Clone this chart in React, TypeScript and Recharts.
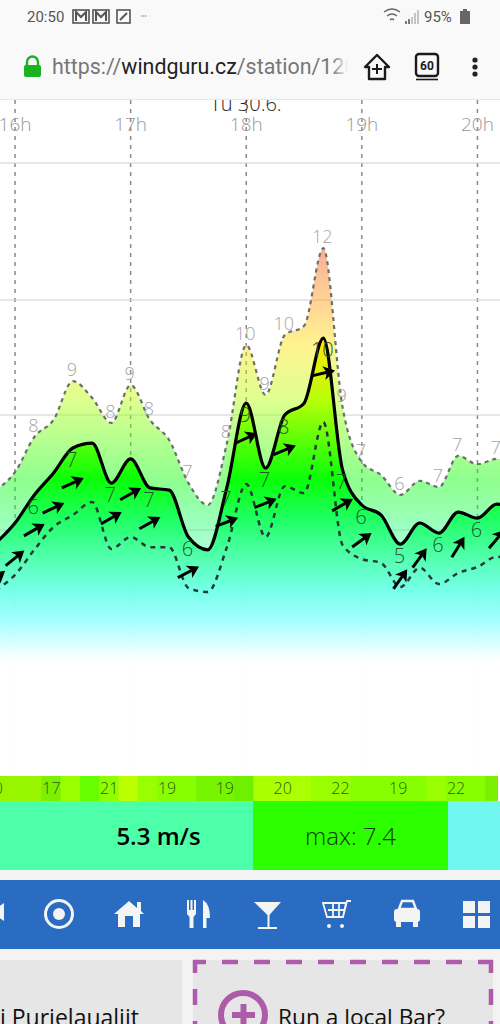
import { Area, Bar, CartesianGrid, Cell, ComposedChart, LabelList, Line, XAxis, YAxis } from "recharts";

// 10 minute station samples, hours of the day
const times = [
  15.833, 16, 16.167, 16.333, 16.5, 16.667, 16.833, 17, 17.167, 17.333, 17.5, 17.667, 17.833, 18,
  18.167, 18.333, 18.5, 18.667, 18.833, 19, 19.167, 19.333, 19.5, 19.667, 19.833, 20, 20.167, 20.333,
];
const gust = [
  6.49, 6.9, 7.7, 8.09, 8.97, 8.59, 8.02, 8.88, 8.09, 7.63, 6.65, 6.15, 7.56, 9.79,
  8.66, 10.02, 10.23, 12.0, 8.38, 7.13, 6.83, 6.38, 6.7, 6.56, 7.27, 7.08, 7.2, 7.13,
];
const mean = [
  5.28, 5.74, 6.38, 6.88, 7.45, 7.56, 6.65, 7.2, 6.54, 6.49, 5.42, 5.13, 6.56, 8.47,
  6.99, 8.2, 8.47, 9.95, 6.95, 6.15, 5.92, 5.26, 5.74, 5.51, 5.99, 5.85, 6.17, 6.04,
];
const lull = [
  4.21, 4.56, 5.13, 5.65, 5.92, 6.22, 5.15, 5.42, 5.19, 5.19, 4.26, 4.17, 5.19, 6.63,
  5.42, 6.58, 6.42, 8.04, 5.24, 4.92, 4.83, 4.28, 4.72, 4.35, 4.6, 4.74, 4.97, 4.9,
];
const gustLabels = [
  null, null, "8", null, "9", null, "8", "9", "8", null, "7", null, "8", "10",
  "9", "10", null, "12", "9", "7", null, "6", null, "7", "7", null, "7", null,
];
const meanLabels = [
  null, null, "6", null, "7", null, "7", null, "7", null, "6", null, "7", "9",
  "7", "8", null, "10", "7", "6", null, "5", null, "6", null, "6", null, null,
];
// arrow slope above horizontal, degrees
const arrowAngles = [
  38, 39, 30, 25, 24, null, 30, 29, 29, null, 28, null, 21, 25,
  22, 22, null, 13, 30, 36, null, 55, 54, null, 58, null, 50, null,
];
const tempLabels = [
  "20", null, null, "17", null, null, "21", null, null, "19", null, null, "19", null,
  null, "20", null, null, "22", null, null, "19", null, null, "22", null, null, null,
];
const tempColors = [
  "#98f500", "#98f500", "#98f500", "#7cf000", "#99ff00", "#66ff00", "#90ff00", "#bbff00", "#99ff00", "#88ff00",
  "#88ff00", "#77f400", "#77f400", "#6ef000", "#aaff00", "#aaff00", "#aaff00", "#99ff00", "#99ff00", "#88ff00",
  "#88ff00", "#88ff00", "#88ff00", "#99ff00", "#88ff00", "#88ff00", "#7cf000", "#7cf000",
];
const hourTicks = [16, 17, 18, 19, 20];
const gridValues = [5.58, 8.2, 10.82, 13.94];
const xDomain = [15.87, 20.195];

const colorStops = [
  [248, "#ee4a10"], [300, "#ff9a10"], [345, "#ffe400"], [400, "#b4ff00"], [450, "#40ff00"], [480, "#00ff00"],
  [520, "#18ff60"], [560, "#50ffb0"], [590, "#70ffe8"], [620, "#a0ffff"], [660, "#ffffff"],
] as const;

const data = times.map((t, i) => ({
  t,
  gust: gust[i],
  mean: mean[i],
  lull: lull[i],
  gustLabel: gustLabels[i] ?? undefined,
  meanLabel: meanLabels[i] ?? undefined,
  arrow: arrowAngles[i],
  temp: 1,
  tempLabel: tempLabels[i] ?? undefined,
}));

const sans = '"Open Sans", sans-serif';

function ArrowDot(props: any) {
  const { cx, cy, payload, index } = props;
  if (payload.arrow == null) return <g key={index} />;
  return (
    <g key={index} transform={`translate(${cx} ${cy + 35}) rotate(${-payload.arrow})`}>
      <line x1={-12} y1={0} x2={5} y2={0} stroke="#000" strokeWidth={3} />
      <path d="M12 0 L0.5 -7 L3.5 0 L0.5 7 Z" fill="#000" />
    </g>
  );
}

function WindChart() {
  return (
    <ComposedChart
      width={500}
      height={1024}
      data={data}
      margin={{ top: 100, right: 0, bottom: 249, left: 0 }}
      style={{ position: "absolute", left: 0, top: 0 }}
    >
      <defs>
        <linearGradient id="windFill" gradientUnits="userSpaceOnUse" x1={0} y1={248} x2={0} y2={660}>
          {colorStops.map(([y, c]) => (
            <stop key={y} offset={(y - 248) / 412} stopColor={c} />
          ))}
        </linearGradient>
      </defs>
      <CartesianGrid horizontal={false} verticalValues={hourTicks} stroke="#8a8a8a" strokeWidth={1.5} strokeDasharray="4 5" />
      <CartesianGrid vertical={false} horizontalValues={gridValues} stroke="#cfcfcf" strokeWidth={1} />
      <XAxis
        type="number"
        dataKey="t"
        orientation="top"
        mirror
        domain={xDomain}
        allowDataOverflow
        ticks={hourTicks}
        interval={0}
        tickFormatter={(v) => `${v}h`}
        axisLine={false}
        tickLine={false}
        tick={{ fill: "#999", fontSize: 19, fontWeight: 300, fontFamily: sans, dy: 10 }}
      />
      <YAxis hide domain={[0, 15.376]} />
      <Area type="monotone" dataKey="gust" stroke="none" fill="url(#windFill)" fillOpacity={0.44} isAnimationActive={false} />
      <Area type="monotone" dataKey="mean" stroke="none" fill="url(#windFill)" fillOpacity={0.94} isAnimationActive={false} />
      <Line type="monotone" dataKey="gust" stroke="#6e6e6e" strokeWidth={2.2} strokeDasharray="4 4" dot={false} isAnimationActive={false}>
        <LabelList dataKey="gustLabel" position="top" dx={-1} fill="#a5a5a5" fontSize={18} fontWeight={300} fontFamily={sans} />
      </Line>
      <Line type="monotone" dataKey="lull" stroke="#263a3a" strokeWidth={2.5} strokeDasharray="5 5" dot={false} isAnimationActive={false} />
      <Line type="monotone" dataKey="mean" stroke="#000" strokeWidth={3.2} dot={false} isAnimationActive={false}>
        <LabelList dataKey="meanLabel" position="bottom" dx={-1} fill="#1d5a2e" fontSize={20} fontWeight={300} fontFamily={sans} />
      </Line>
      <Line type="monotone" dataKey="mean" stroke="none" dot={ArrowDot} isAnimationActive={false} />
    </ComposedChart>
  );
}

function TempStrip() {
  return (
    <ComposedChart
      width={500}
      height={25}
      data={data}
      barCategoryGap={0}
      barGap={0}
      margin={{ top: 0, right: 0, bottom: 0, left: 0 }}
      style={{ position: "absolute", left: -2, top: 776 }}
    >
      <XAxis hide type="number" dataKey="t" domain={xDomain} allowDataOverflow />
      <YAxis hide domain={[0, 1]} />
      <Bar dataKey="temp" isAnimationActive={false}>
        {data.map((_, i) => (
          <Cell key={i} fill={tempColors[i]} stroke={tempColors[i]} strokeWidth={1} />
        ))}
        <LabelList dataKey="tempLabel" position="center" fill="#2b5a10" fontSize={16} fontWeight={300} fontFamily={sans} />
      </Bar>
    </ComposedChart>
  );
}

function StatusAndUrl() {
  return (
    <div style={{ position: "absolute", left: 0, top: 0, width: 500, height: 100, background: "#f9f9f9", borderBottom: "1px solid #e6e6e6", boxSizing: "border-box" }}>
      <div style={{ position: "absolute", left: 27, top: 8, font: "15px Roboto", color: "#555" }}>20:50</div>
      <div style={{ position: "absolute", left: 424, top: 8, font: "15px Roboto", color: "#555" }}>95%</div>
      <svg width={500} height={100} style={{ position: "absolute", left: 0, top: 0 }}>
        {[73, 93].map((x) => (
          <g key={x} fill="none" stroke="#555" strokeWidth={1.6}>
            <rect x={x} y={10} width={16} height={13} />
            <path d={`M${x + 3} 21 V12 L${x + 8} 17 L${x + 13} 12 V21`} strokeWidth={2} />
          </g>
        ))}
        <rect x={117} y={10} width={13} height={13} fill="none" stroke="#555" strokeWidth={1.6} />
        <path d="M120 20 L127 13" stroke="#555" strokeWidth={2} />
        <path d="M141 16 H147" stroke="#666" strokeWidth={1} strokeDasharray="1.2 1" />
        <path d="M384 12 Q392 6 400 12 M387 16 Q392 12 397 16 M390 20 Q392 18 394 20" fill="none" stroke="#666" strokeWidth={1.4} />
        <path d="M406 24 V21 M409 24 V19 M412 24 V17 M415 24 V13 M418 24 V10" stroke="#b8b8b8" strokeWidth={1.6} />
        <path d="M406 24 V21 M409 24 V19" stroke="#666" strokeWidth={1.6} />
        <rect x={460} y={11} width={10} height={13} fill="#666" />
        <rect x={463} y={9} width={4} height={2} fill="#666" />
        <rect x={24} y={65} width={17} height={12} rx={2} fill="#19b31e" />
        <path d="M27 66 V62 a5.5 5.5 0 0 1 11 0 V66" fill="none" stroke="#19b31e" strokeWidth={2.4} />
        <path d="M377 55 L365 67 H369 V79 H385 V67 H389 Z" fill="none" stroke="#1b1b1b" strokeWidth={2.4} strokeLinejoin="round" />
        <path d="M372 69 H382 M377 64 V74" stroke="#1b1b1b" strokeWidth={2} />
        <rect x={416} y={54} width={22} height={22} rx={3} fill="none" stroke="#1b1b1b" strokeWidth={2.4} />
        <path d="M416 79.5 H438" stroke="#1b1b1b" strokeWidth={1.6} />
        <text x={427} y={70} textAnchor="middle" fontFamily="Roboto" fontWeight={700} fontSize={12} fill="#1b1b1b">60</text>
        <circle cx={475} cy={60} r={2.6} fill="#222" />
        <circle cx={475} cy={67} r={2.6} fill="#222" />
        <circle cx={475} cy={74} r={2.6} fill="#222" />
      </svg>
      <div style={{ position: "absolute", left: 52, top: 54, width: 296, overflow: "hidden", whiteSpace: "nowrap", font: "21.4px Roboto", color: "#777" }}>
        https://<span style={{ color: "#222" }}>windguru.cz</span>/station/120
      </div>
      <div style={{ position: "absolute", left: 332, top: 54, width: 16, height: 30, background: "linear-gradient(to right, rgba(249,249,249,0), #f9f9f9)" }} />
    </div>
  );
}

function BottomBars() {
  const box = { position: "absolute", display: "flex", alignItems: "center", justifyContent: "center", fontFamily: sans, fontSize: 24 } as const;
  return (
    <>
      <div style={{ position: "absolute", left: 0, top: 801, width: 500, height: 223, background: "#f3f3f3" }} />
      <div style={{ ...box, left: 0, top: 801, width: 253, height: 69, background: "#4dffa8" }}>
        <b style={{ marginLeft: 64, fontWeight: 600 }}>5.3 m/s</b>
      </div>
      <div style={{ ...box, left: 253, top: 801, width: 195, height: 69, background: "#2bff00", fontWeight: 300, color: "#0f3a0c" }}>max: 7.4</div>
      <div style={{ ...box, left: 448, top: 801, width: 52, height: 69, background: "#70f8f0" }} />
      <div style={{ position: "absolute", left: 0, top: 880, width: 500, height: 69, background: "#2a6cc2" }} />
      <svg width={500} height={144} style={{ position: "absolute", left: 0, top: 880 }}>
        <g fill="#f4f4f4">
          <path d="M-2 27 L4 23 V41 L-2 37 Z" />
          <circle cx={59} cy={34} r={13.5} fill="none" stroke="#f4f4f4" strokeWidth={3} />
          <circle cx={59} cy={34} r={6} />
          <path fillRule="evenodd" d="M129 21 L137 28 V22 H141 V31 L144 34 H140 V47 H118 V34 H114 Z M125 36 V47 H133 V36 Z" />
          <path d="M187 20 H189 V30 H190.5 V20 H192.5 V30 H194 V20 H196 V34 L193.5 37 V48 H189.5 V37 L187 34 Z" />
          <path d="M203 20 Q210 24 210 38 H206.5 V48 H203 Z" />
          <path d="M254 22 H281 L268.5 36 Z M258 47 H277 V49 H258 Z" />
          <rect x={267.5} y={34} width={2} height={13} />
          <rect x={394} y={29} width={26} height={13} rx={3} />
          <rect x={396} y={41} width={5} height={6} />
          <rect x={413} y={41} width={5} height={6} />
          <path d="M399 29 L402 21 H413 L416 29 Z" fill="none" stroke="#f4f4f4" strokeWidth={2.4} />
          <rect x={463} y={21} width={12} height={12} />
          <rect x={478} y={21} width={12} height={12} />
          <rect x={463} y={36} width={12} height={12} />
          <rect x={478} y={36} width={12} height={12} />
        </g>
        <path d="M323 23 H346 L343 37 H327 Z M328 30 H345 M333 23 V37 M339 23 V37 M343 37 L347 21 H351" fill="none" stroke="#f4f4f4" strokeWidth={1.8} />
        <circle cx={329} cy={46} r={2} fill="#f4f4f4" />
        <circle cx={342} cy={46} r={2} fill="#f4f4f4" />
        <rect x={0} y={80} width={182} height={64} fill="#e6e6e6" />
        <rect x={193} y={80} width={300} height={64} fill="#e6e6e6" />
        <g fill="none" stroke="#ac5ca8" strokeWidth={4.5} strokeDasharray="16 16" strokeDashoffset={3}>
          <path d="M193 82 H493" />
          <path d="M195 80 V144" />
          <path d="M491 80 V144" />
        </g>
        <circle cx={243} cy={135} r={22} fill="none" stroke="#ac5ca8" strokeWidth={6} />
        <path d="M232 135 H255 M243.5 124 V146" stroke="#ac5ca8" strokeWidth={6} />
      </svg>
      <div style={{ position: "absolute", left: 0, top: 1001, font: '400 23px "Open Sans"', color: "#111", whiteSpace: "nowrap" }}>i Purjelaualiit</div>
      <div style={{ position: "absolute", left: 278, top: 1001, font: '400 22.7px "Open Sans"', color: "#111", whiteSpace: "nowrap" }}>Run a local Bar?</div>
    </>
  );
}

export default function App() {
  return (
    <div style={{ position: "absolute", left: 0, top: 0, width: 500, height: 1024, overflow: "hidden", background: "#fff" }}>
      <WindChart />
      <div style={{ position: "absolute", left: 0, width: 492, top: 90, textAlign: "center", font: '300 20px "Open Sans"', color: "#222" }}>Tu 30.6.</div>
      <TempStrip />
      <BottomBars />
      <StatusAndUrl />
    </div>
  );
}
